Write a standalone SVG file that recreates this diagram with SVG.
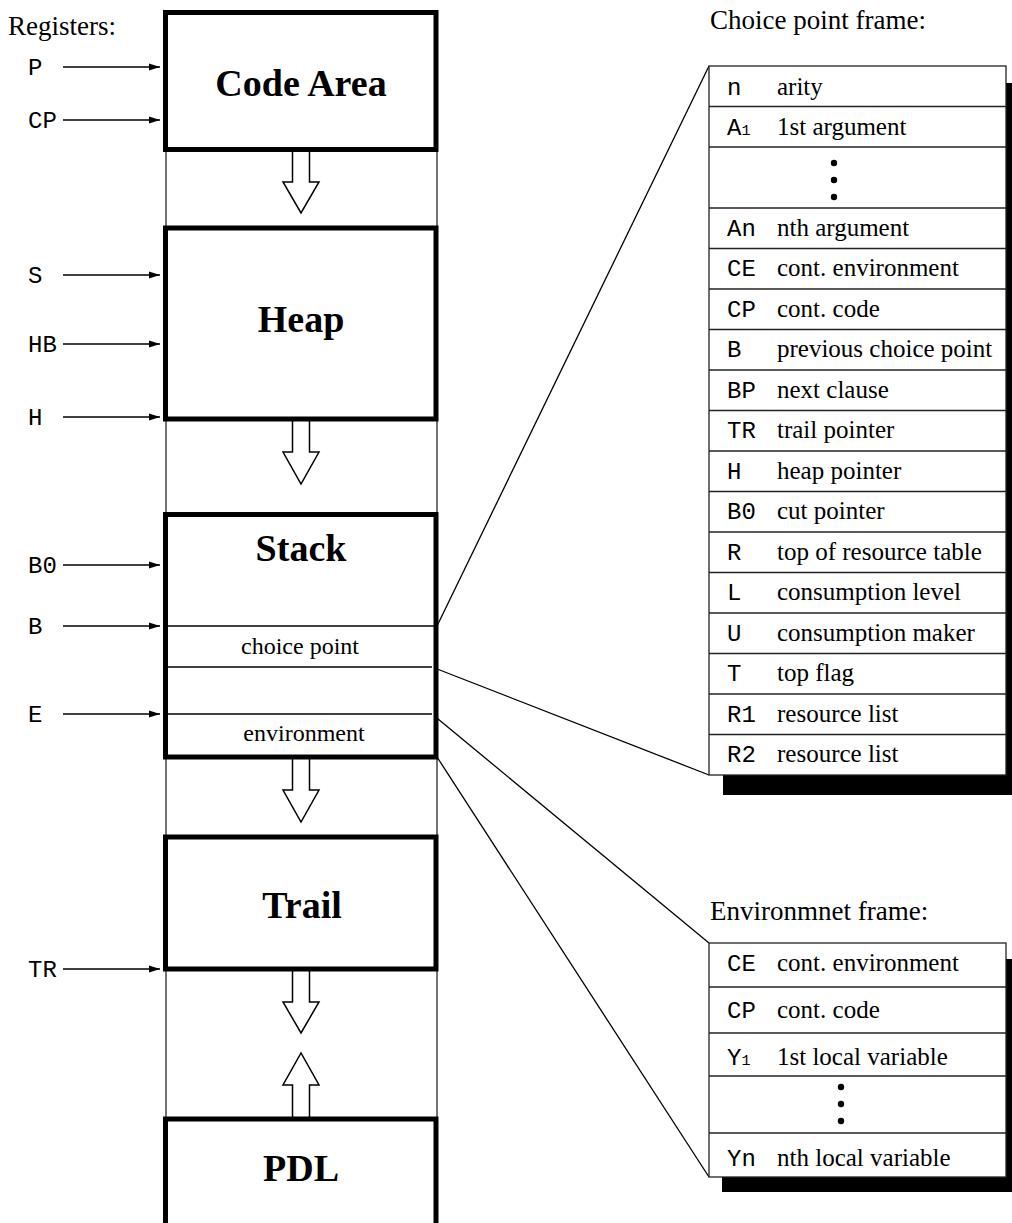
<svg xmlns="http://www.w3.org/2000/svg" width="1012" height="1223" viewBox="0 0 1012 1223">
<style>
.serif{font-family:"Liberation Serif","Times New Roman",serif;fill:#000}
.hdr{font-size:27px}
.ft{font-size:25px}
.small{font-size:24px}
.big{font-size:38px;font-weight:bold;text-anchor:middle}
.mono{font-family:"Liberation Mono","Courier New",monospace;font-size:24px;fill:#000}
.sub{font-size:15px}
.thick{fill:#fff;stroke:#000;stroke-width:5}
.thin{stroke:#000;stroke-width:1.3;fill:none}
.col{stroke:#444;stroke-width:1.5;fill:none}
.hollow{fill:#fff;stroke:#000;stroke-width:1.5;stroke-linejoin:miter}
.reg{stroke:#000;stroke-width:1.4;fill:none;marker-end:url(#ah)}
.frame{fill:#fff;stroke:#222;stroke-width:1.3}
.row{stroke:#222;stroke-width:1.3}
</style>
<defs>
<marker id="ah" markerWidth="11" markerHeight="8" refX="11" refY="4" orient="auto" markerUnits="userSpaceOnUse">
<path d="M0,0.5 L11,4 L0,7.5 Z" fill="#000"/>
</marker>
</defs>
<rect width="1012" height="1223" fill="#fff"/>

<text class="serif hdr" x="8" y="35">Registers:</text>
<text class="serif hdr" x="710" y="29">Choice point frame:</text>
<text class="serif hdr" x="710" y="920">Environmnet frame:</text>

<!-- column side lines -->
<g id="column">
<line class="col" x1="166" y1="12" x2="166" y2="1223"/>
<line class="col" x1="437" y1="12" x2="437" y2="1223"/>
</g>

<!-- connectors -->
<g id="connectors">
<line class="thin" x1="437" y1="626" x2="709" y2="66"/>
<line class="thin" x1="432" y1="667" x2="709" y2="775"/>
<line class="thin" x1="432" y1="714" x2="709" y2="943"/>
<line class="thin" x1="437" y1="757" x2="709" y2="1177"/>
<line class="reg" x1="63" y1="67" x2="160" y2="67"/>
<line class="reg" x1="63" y1="120" x2="160" y2="120"/>
<line class="reg" x1="63" y1="275" x2="160" y2="275"/>
<line class="reg" x1="63" y1="344" x2="160" y2="344"/>
<line class="reg" x1="63" y1="417" x2="160" y2="417"/>
<line class="reg" x1="63" y1="565" x2="160" y2="565"/>
<line class="reg" x1="63" y1="626" x2="160" y2="626"/>
<line class="reg" x1="63" y1="714" x2="160" y2="714"/>
<line class="reg" x1="63" y1="969" x2="160" y2="969"/>
<path class="hollow" d="M292.5,152 V182 H283 L301,213 L319,182 H309.5 V152"/>
<path class="hollow" d="M292.5,421 V452 H283 L301,484 L319,452 H309.5 V421"/>
<path class="hollow" d="M292.5,759 V790 H283 L301,822 L319,790 H309.5 V759"/>
<path class="hollow" d="M292.5,971 V1002 H283 L301,1033 L319,1002 H309.5 V971"/>
<path class="hollow" d="M292.5,1117 V1085 H283 L301,1053 L319,1085 H309.5 V1117"/>
</g>

<g id="registers">
<text class="mono" x="28" y="75">P</text>
<text class="mono" x="28" y="128">CP</text>
<text class="mono" x="28" y="283">S</text>
<text class="mono" x="28" y="352">HB</text>
<text class="mono" x="28" y="425">H</text>
<text class="mono" x="28" y="573">B0</text>
<text class="mono" x="28" y="634">B</text>
<text class="mono" x="28" y="722">E</text>
<text class="mono" x="28" y="977">TR</text>
</g>

<g id="code-area">
<rect class="thick" x="165.5" y="12.5" width="270.5" height="137"/>
<text class="serif big" x="301" y="96">Code Area</text>
</g>
<g id="heap">
<rect class="thick" x="165.5" y="228" width="270.5" height="191"/>
<text class="serif big" x="301" y="332">Heap</text>
</g>
<g id="stack">
<rect class="thick" x="165.5" y="514.5" width="270.5" height="242.5"/>
<line class="thin" x1="168" y1="626" x2="434" y2="626"/>
<line class="thin" x1="168" y1="667" x2="432" y2="667"/>
<line class="thin" x1="168" y1="714" x2="432" y2="714"/>
<text class="serif big" x="301" y="561">Stack</text>
<text class="serif small" x="300" y="654" text-anchor="middle">choice point</text>
<text class="serif small" x="304" y="741" text-anchor="middle">environment</text>
</g>
<g id="trail">
<rect class="thick" x="165.5" y="837" width="270.5" height="132"/>
<text class="serif big" x="302" y="918">Trail</text>
</g>
<g id="pdl">
<rect class="thick" x="165.5" y="1119" width="270.5" height="120"/>
<text class="serif big" x="301" y="1181">PDL</text>
</g>

<g id="choice-point-frame">
<rect x="723" y="83" width="300" height="712" fill="#000"/>
<rect class="frame" x="709" y="66" width="297" height="709"/>
<line class="row" x1="709" y1="106.5" x2="1006" y2="106.5"/>
<line class="row" x1="709" y1="147" x2="1006" y2="147"/>
<line class="row" x1="709" y1="208" x2="1006" y2="208"/>
<line class="row" x1="709" y1="248.5" x2="1006" y2="248.5"/>
<line class="row" x1="709" y1="289" x2="1006" y2="289"/>
<line class="row" x1="709" y1="329.5" x2="1006" y2="329.5"/>
<line class="row" x1="709" y1="370" x2="1006" y2="370"/>
<line class="row" x1="709" y1="410.5" x2="1006" y2="410.5"/>
<line class="row" x1="709" y1="451" x2="1006" y2="451"/>
<line class="row" x1="709" y1="491.5" x2="1006" y2="491.5"/>
<line class="row" x1="709" y1="532" x2="1006" y2="532"/>
<line class="row" x1="709" y1="572.5" x2="1006" y2="572.5"/>
<line class="row" x1="709" y1="613" x2="1006" y2="613"/>
<line class="row" x1="709" y1="653.5" x2="1006" y2="653.5"/>
<line class="row" x1="709" y1="694" x2="1006" y2="694"/>
<line class="row" x1="709" y1="734.5" x2="1006" y2="734.5"/>
<circle cx="834" cy="163" r="3.2"/>
<circle cx="834" cy="180" r="3.2"/>
<circle cx="834" cy="197" r="3.2"/>
<text class="mono" x="727" y="95">n</text><text class="serif ft" x="777" y="95">arity</text>
<text class="mono" x="727" y="135">A<tspan class="sub">1</tspan></text><text class="serif ft" x="777" y="135">1st argument</text>
<text class="mono" x="727" y="236">An</text><text class="serif ft" x="777" y="236">nth argument</text>
<text class="mono" x="727" y="276">CE</text><text class="serif ft" x="777" y="276">cont. environment</text>
<text class="mono" x="727" y="317">CP</text><text class="serif ft" x="777" y="317">cont. code</text>
<text class="mono" x="727" y="357">B</text><text class="serif ft" x="777" y="357">previous choice point</text>
<text class="mono" x="727" y="398">BP</text><text class="serif ft" x="777" y="398">next clause</text>
<text class="mono" x="727" y="438">TR</text><text class="serif ft" x="777" y="438">trail pointer</text>
<text class="mono" x="727" y="479">H</text><text class="serif ft" x="777" y="479">heap pointer</text>
<text class="mono" x="727" y="519">B0</text><text class="serif ft" x="777" y="519">cut pointer</text>
<text class="mono" x="727" y="560">R</text><text class="serif ft" x="777" y="560">top of resource table</text>
<text class="mono" x="727" y="600">L</text><text class="serif ft" x="777" y="600">consumption level</text>
<text class="mono" x="727" y="641">U</text><text class="serif ft" x="777" y="641">consumption maker</text>
<text class="mono" x="727" y="681">T</text><text class="serif ft" x="777" y="681">top flag</text>
<text class="mono" x="727" y="722">R1</text><text class="serif ft" x="777" y="722">resource list</text>
<text class="mono" x="727" y="762">R2</text><text class="serif ft" x="777" y="762">resource list</text>
</g>

<g id="environment-frame">
<rect x="722" y="959" width="300" height="233" fill="#000"/>
<rect class="frame" x="709" y="943" width="297" height="234"/>
<line class="row" x1="709" y1="987" x2="1006" y2="987"/>
<line class="row" x1="709" y1="1033" x2="1006" y2="1033"/>
<line class="row" x1="709" y1="1076" x2="1006" y2="1076"/>
<line class="row" x1="709" y1="1133" x2="1006" y2="1133"/>
<circle cx="841" cy="1087" r="3.2"/>
<circle cx="841" cy="1104" r="3.2"/>
<circle cx="841" cy="1121" r="3.2"/>
<text class="mono" x="727" y="971">CE</text><text class="serif ft" x="777" y="971">cont. environment</text>
<text class="mono" x="727" y="1018">CP</text><text class="serif ft" x="777" y="1018">cont. code</text>
<text class="mono" x="727" y="1065">Y<tspan class="sub">1</tspan></text><text class="serif ft" x="777" y="1065">1st local variable</text>
<text class="mono" x="727" y="1166">Yn</text><text class="serif ft" x="777" y="1166">nth local variable</text>
</g>
</svg>
